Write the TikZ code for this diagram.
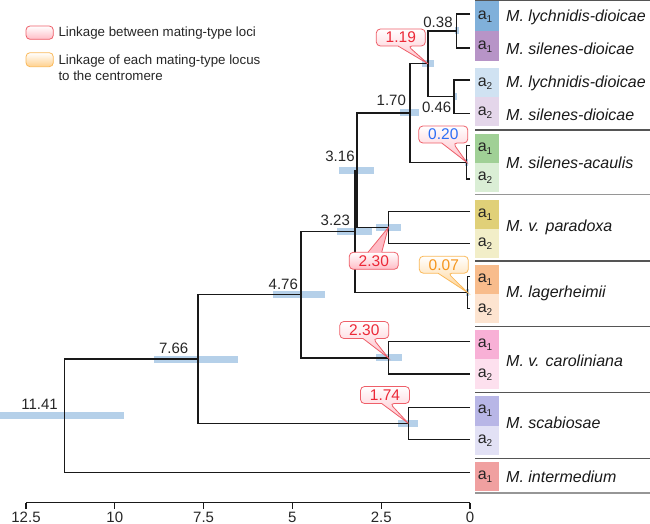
\documentclass[tikz,border=0pt]{standalone}
\usepackage{fontspec}
\setmainfont{Liberation Sans}
\usetikzlibrary{calc}
\definecolor{barblue}{RGB}{181,208,233}
\definecolor{treeblack}{RGB}{25,25,25}
\definecolor{sepgray}{RGB}{85,85,85}
\definecolor{sepgrayl}{RGB}{150,150,150}
\definecolor{cLa}{RGB}{128,176,218}
\definecolor{cSa}{RGB}{183,148,199}
\definecolor{cLb}{RGB}{208,226,242}
\definecolor{cSb}{RGB}{228,214,234}
\definecolor{cAa}{RGB}{160,208,150}
\definecolor{cAb}{RGB}{218,238,213}
\definecolor{cPa}{RGB}{224,208,120}
\definecolor{cPb}{RGB}{242,238,200}
\definecolor{cGa}{RGB}{248,188,140}
\definecolor{cGb}{RGB}{253,228,208}
\definecolor{cCa}{RGB}{248,176,214}
\definecolor{cCb}{RGB}{253,224,238}
\definecolor{cBa}{RGB}{184,182,230}
\definecolor{cBb}{RGB}{226,225,245}
\definecolor{cIa}{RGB}{240,160,160}
\definecolor{calred}{RGB}{236,40,55}
\definecolor{calredline}{RGB}{238,95,105}
\definecolor{calpink}{RGB}{255,188,198}
\definecolor{calblue}{RGB}{45,110,245}
\definecolor{calorange}{RGB}{245,150,30}
\definecolor{calorline}{RGB}{250,185,90}
\definecolor{calorfill}{RGB}{255,208,140}
\newcommand\asub[1]{a\raisebox{-0.35ex}{\fontsize{10}{12}\selectfont #1}}
\newcommand\hpdbar[3]{\fill[hpd] ($(#1)+(#2,-3.5)$) rectangle ($(#1)+(#3,3.5)$);}
% bottom pointer callout: #1 style, #2 centre, #3 #4 base offsets, #5 tip
\newcommand\calloutdown[5]{\path[#1] ($(#2)+(0,-8.5)$) [rounded corners=4pt] -- ($(#2)+(24.5,-8.5)$) -- ($(#2)+(24.5,8.5)$) -- ($(#2)+(#4,8.5)$) [sharp corners] -- (#5) -- ($(#2)+(#3,8.5)$) [rounded corners=4pt] -- ($(#2)+(-24.5,8.5)$) -- ($(#2)+(-24.5,-8.5)$) -- cycle;}
% top pointer callout: box shaded on its own, then the pointer
\newcommand\calloutup[5]{%
  \path[#1, rounded corners=4pt] ($(#2)+(-24.5,-8.5)$) rectangle ($(#2)+(24.5,8.5)$);
  \fill[calpink] ($(#2)+(#3,-7.9)$) -- (#5) -- ($(#2)+(#4,-7.9)$) -- cycle;
  \draw[draw=calredline, line width=0.8pt, line join=miter] ($(#2)+(#3,-8.5)$) -- (#5) -- ($(#2)+(#4,-8.5)$);}
\begin{document}
\begin{tikzpicture}[x=1pt,y=-1pt,
  tree/.style={line width=1.4pt, draw=treeblack},
  hpd/.style={fill=barblue},
  num/.style={font=\fontsize{15}{18}\selectfont, text=black!85, inner sep=0pt},
  callnum/.style={font=\fontsize{15.5}{18}\selectfont, inner sep=0pt},
  sp/.style={font=\fontsize{16}{19}\selectfont\itshape, text=black!90, anchor=west, inner sep=0pt},
  alab/.style={font=\fontsize{16}{19}\selectfont, text=black!85, inner sep=0pt},
  sep/.style={line width=1.2pt, draw=sepgray},
  sepl/.style={line width=1.8pt, draw=sepgrayl},
  redcall/.style={draw=calredline, line width=0.8pt, top color=white, bottom color=calpink},
  orcall/.style={draw=calorline, line width=0.8pt, top color=white, bottom color=calorfill},
  leg/.style={font=\fontsize{13.3}{16}\selectfont, text=black!85, inner sep=0pt, anchor=west, align=left},
  ticklab/.style={font=\fontsize{15}{18}\selectfont, text=black!85, inner sep=0pt},
]
\useasboundingbox (0,0) rectangle (650,524);

% ---- leaves
\coordinate (L1) at (470,14);
\coordinate (L2) at (470,48);
\coordinate (L3) at (470,80);
\coordinate (L4) at (470,113.3);
\coordinate (L5) at (470,145.7);
\coordinate (L6) at (470,179);
\coordinate (L7) at (470,211.7);
\coordinate (L8) at (470,243.3);
\coordinate (L9) at (470,276.7);
\coordinate (L10) at (470,308.3);
\coordinate (L11) at (470,341.7);
\coordinate (L12) at (470,374);
\coordinate (L13) at (470,407.3);
\coordinate (L14) at (470,439.3);
\coordinate (L15) at (470,472.7);
% ---- internal nodes
\coordinate (n038) at (456.6,31);
\coordinate (n046) at (454,96.7);
\coordinate (n119) at (428,63.8);
\coordinate (n020) at (466.7,162.3);
\coordinate (n170) at (410,113);
\coordinate (n230p) at (388.3,227.5);
\coordinate (n316) at (357,170.3);
\coordinate (n007) at (467.5,292.5);
\coordinate (n323) at (355,231.4);
\coordinate (n230c) at (388.3,357.9);
\coordinate (n476) at (301,294.6);
\coordinate (n174) at (408.3,423.3);
\coordinate (n766) at (197.8,359);
\coordinate (n1141) at (64.5,415.8);

% ---- HPD bars
\hpdbar{n1141}{-64.5}{59.5}
\hpdbar{n766}{-43.8}{39.9}
\hpdbar{n476}{-27.7}{24}
\hpdbar{n323}{-18}{17}
\hpdbar{n316}{-17.7}{17}
\hpdbar{n230p}{-12.6}{12.4}
\hpdbar{n170}{-10}{9}
\hpdbar{n119}{-6}{6}
\hpdbar{n038}{-1.6}{2.4}
\hpdbar{n046}{-1.3}{2.7}
\hpdbar{n020}{-1.5}{1.5}
\hpdbar{n007}{-1.5}{1.5}
\hpdbar{n230c}{-12.6}{13.4}
\hpdbar{n174}{-10}{10}

% ---- tree
\draw[tree] (L1) -| (n038) |- (L2);
\draw[tree] (L3) -| (n046) |- (L4);
\draw[tree] (n038) -| (n119) |- (n046);
\draw[tree] (L5) -| (n020) |- (L6);
\draw[tree] (n119) -| (n170) |- (n020);
\draw[tree] (L7) -| (n230p) |- (L8);
\draw[tree] (n170) -| (n316) |- (n230p);
\draw[tree] (L9) -| (n007) |- (L10);
\draw[tree] (n316) -| (n323) |- (n007);
\draw[tree] (L11) -| (n230c) |- (L12);
\draw[tree] (n323) -| (n476) |- (n230c);
\draw[tree] (L13) -| (n174) |- (L14);
\draw[tree] (n476) -| (n766) |- (n174);
\draw[tree] (n766) -| (n1141) |- (L15);

% ---- node ages
\node[num] (a038) at (438,22.7) {0.38};
\node[num] (a046) at (436.7,107.3) {0.46};
\node[num] (a170) at (391.3,100.7) {1.70};
\node[num] (a316) at (340,156.7) {3.16};
\node[num] (a323) at (335.3,220) {3.23};
\node[num] (a476) at (283.3,284) {4.76};
\node[num] (a766) at (173.7,348.3) {7.66};
\node[num] (a1141) at (39.5,404) {11.41};

% ---- callouts
\coordinate (c119) at (400.8,37.5);
\coordinate (c020) at (443.3,134.5);
\coordinate (c230p) at (373.8,260.8);
\coordinate (c007) at (443.8,264.7);
\coordinate (c230c) at (364.3,330);
\coordinate (c174) at (385,395);
\calloutdown{redcall}{c119}{-2.8}{7.2}{n119}
\calloutdown{redcall}{c020}{-1.6}{9.7}{n020}
\calloutup{redcall}{c230p}{-5.8}{7.9}{n230p}
\calloutdown{orcall}{c007}{-5.8}{4.2}{n007}
\calloutdown{redcall}{c230c}{-1.3}{8.7}{n230c}
\calloutdown{redcall}{c174}{-3.3}{5}{n174}
\node[callnum, text=calred] (t119) at (c119) {1.19};
\node[callnum, text=calblue] (t020) at (c020) {0.20};
\node[callnum, text=calred] (t230p) at (c230p) {2.30};
\node[callnum, text=calorange] (t007) at (c007) {0.07};
\node[callnum, text=calred] (t230c) at (c230c) {2.30};
\node[callnum, text=calred] (t174) at (c174) {1.74};

% ---- legend
\path[redcall, rounded corners=4pt] (26,26) rectangle (53.3,39.3);
\path[orcall, rounded corners=4pt] (26,52.7) rectangle (53.3,66.7);
\node[leg] (leg1) at (58.3,32.7) {Linkage between mating-type loci};
\node[leg] (leg2) at (58.3,68) {Linkage of each mating-type locus\\to the centromere};

% ---- colour cells
\fill[cLa] (475,1.5) rectangle (499,31);
\fill[cSa] (475,31) rectangle (499,61);
\fill[cLb] (475,68) rectangle (499,97.5);
\fill[cSb] (475,97.5) rectangle (499,126.5);
\fill[cAa] (475,133.5) rectangle (499,163);
\fill[cAb] (475,163) rectangle (499,192);
\fill[cPa] (475,199.5) rectangle (499,228.5);
\fill[cPb] (475,228.5) rectangle (499,257.7);
\fill[cGa] (475,265) rectangle (499,294.3);
\fill[cGb] (475,294.3) rectangle (499,323.3);
\fill[cCa] (475,330) rectangle (499,359.3);
\fill[cCb] (475,359.3) rectangle (499,389);
\fill[cBa] (475,396) rectangle (499,425.7);
\fill[cBb] (475,425.7) rectangle (499,455);
\fill[cIa] (475,461.7) rectangle (499,490.7);

\node[alab] (x1) at (485,16.8) {\asub{1}};
\node[alab] (x2) at (485,46.5) {\asub{1}};
\node[alab] (x3) at (485,83.3) {\asub{2}};
\node[alab] (x4) at (485,112.5) {\asub{2}};
\node[alab] (x5) at (485,148.8) {\asub{1}};
\node[alab] (x6) at (485,178) {\asub{2}};
\node[alab] (x7) at (485,214.5) {\asub{1}};
\node[alab] (x8) at (485,243.6) {\asub{2}};
\node[alab] (x9) at (485,280) {\asub{1}};
\node[alab] (x10) at (485,309.3) {\asub{2}};
\node[alab] (x11) at (485,345) {\asub{1}};
\node[alab] (x12) at (485,374.3) {\asub{2}};
\node[alab] (x13) at (485,411) {\asub{1}};
\node[alab] (x14) at (485,440.3) {\asub{2}};
\node[alab] (x15) at (485,476.5) {\asub{1}};

% ---- species names
\node[sp] (s1) at (506,17.5) {M. lychnidis-dioicae};
\node[sp] (s2) at (506,48.5) {M. silenes-dioicae};
\node[sp] (s3) at (506,83.5) {M. lychnidis-dioicae};
\node[sp] (s4) at (506,114.5) {M. silenes-dioicae};
\node[sp] (s5) at (506,162.5) {M. silenes-acaulis};
\node[sp] (s6) at (506,227) {M. v. paradoxa};
\node[sp] (s7) at (506,293.5) {M. lagerheimii};
\node[sp] (s8) at (506,361) {M. v. caroliniana};
\node[sp] (s9) at (506,422.5) {M. scabiosae};
\node[sp] (s10) at (506,476.5) {M. intermedium};

% ---- separators
\draw[sep] (475,0.8) -- (650,0.8);
\draw[sep] (475,130) -- (650,130);
\draw[sepl] (475,194.5) -- (650,194.5);
\draw[sep] (475,261) -- (650,261);
\draw[sep] (475,326.5) -- (650,326.5);
\draw[sep] (475,392.5) -- (650,392.5);
\draw[sep] (475,458.3) -- (650,458.3);
\draw[sepl] (475,493.3) -- (650,493.3);

% ---- axis
\draw[line width=1.3pt, draw=treeblack] (26,502.7) -- (470,502.7);
\foreach \xx/\lab in {26/12.5, 114.8/10, 203.6/7.5, 292.4/5, 381.2/2.5, 470/0}{
  \draw[line width=1.3pt, draw=treeblack] (\xx,502.7) -- (\xx,509);
  \node[ticklab] (tick\lab) at (\xx,517) {\lab};
}
\end{tikzpicture}
\end{document}
